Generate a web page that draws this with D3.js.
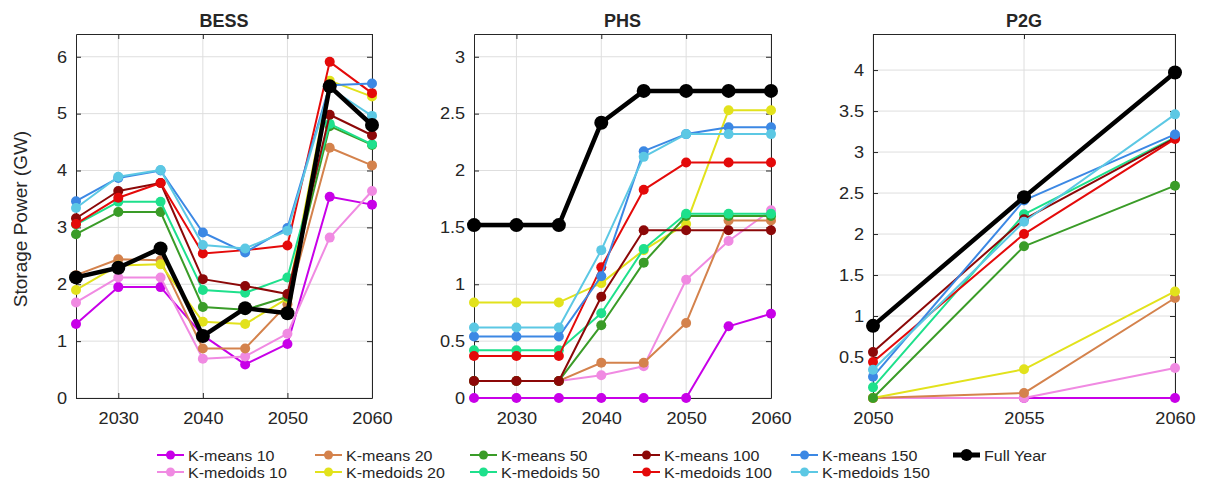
<!DOCTYPE html>
<html>
<head>
<meta charset="utf-8">
<script src="https://cdn.jsdelivr.net/npm/d3@7"></script>
<style>
  body { margin: 0; background: #fff; }
  svg text { font-family: "Liberation Sans", Arial, Helvetica, sans-serif; fill: #262626; }
</style>
</head>
<body>
<svg id="chart" width="1210" height="486"></svg>
<script>
// Series, in drawing order (Full Year last so it sits on top)
const seriesNames = [
  "K-means 10", "K-medoids 10", "K-means 20", "K-medoids 20",
  "K-means 50", "K-medoids 50", "K-means 100", "K-medoids 100",
  "K-means 150", "K-medoids 150", "Full Year"
];
const seriesColors = [
  "#c800e8", "#f08ae2", "#d4824c", "#e2e21c",
  "#3a9c28", "#1ee08c", "#8c0808", "#e40a0a",
  "#3c88e4", "#5cc8e4", "#000000"
];

const yearsBESS = [2025, 2030, 2035, 2040, 2045, 2050, 2055, 2060];
const yearsPHS  = [2025, 2030, 2035, 2040, 2045, 2050, 2055, 2060];
const yearsP2G  = [2050, 2055, 2060];

// Installed storage power (GW), one row per series in seriesNames order
const bessValues = [
  [1.30, 1.95, 1.95, 1.10, 0.59, 0.95, 3.54, 3.40],
  [1.68, 2.12, 2.12, 0.69, 0.73, 1.13, 2.82, 3.64],
  [2.16, 2.44, 2.42, 0.87, 0.87, 1.65, 4.40, 4.09],
  [1.90, 2.33, 2.35, 1.34, 1.30, 1.75, 5.58, 5.30],
  [2.88, 3.27, 3.27, 1.60, 1.55, 1.78, 4.78, 4.45],
  [3.05, 3.45, 3.45, 1.90, 1.85, 2.12, 4.82, 4.46],
  [3.16, 3.64, 3.78, 2.09, 1.97, 1.83, 4.98, 4.62],
  [3.06, 3.52, 3.78, 2.54, 2.60, 2.68, 5.91, 5.36],
  [3.46, 3.87, 4.00, 2.91, 2.56, 2.99, 5.50, 5.53],
  [3.34, 3.89, 4.01, 2.69, 2.63, 2.94, 5.45, 4.96],
  [2.12, 2.29, 2.63, 1.09, 1.58, 1.49, 5.48, 4.80]
];

const phsValues = [
  [0.00, 0.00, 0.00, 0.00, 0.00, 0.00, 0.63, 0.74],
  [0.15, 0.15, 0.15, 0.20, 0.28, 1.04, 1.38, 1.65],
  [0.15, 0.15, 0.15, 0.31, 0.31, 0.66, 1.56, 1.56],
  [0.84, 0.84, 0.84, 1.01, 1.30, 1.53, 2.53, 2.53],
  [0.15, 0.15, 0.15, 0.64, 1.19, 1.60, 1.60, 1.60],
  [0.42, 0.42, 0.42, 0.745, 1.31, 1.62, 1.62, 1.62],
  [0.15, 0.15, 0.15, 0.89, 1.475, 1.475, 1.475, 1.475],
  [0.37, 0.37, 0.37, 1.15, 1.83, 2.07, 2.07, 2.07],
  [0.54, 0.54, 0.54, 1.07, 2.17, 2.32, 2.38, 2.38],
  [0.62, 0.62, 0.62, 1.30, 2.12, 2.32, 2.32, 2.32],
  [1.52, 1.52, 1.52, 2.42, 2.70, 2.70, 2.70, 2.70]
];

const p2gValues = [
  [0.00, 0.00, 0.00],
  [0.00, 0.00, 0.365],
  [0.00, 0.06, 1.22],
  [0.00, 0.35, 1.30],
  [0.00, 1.85, 2.59],
  [0.13, 2.24, 3.18],
  [0.56, 2.18, 3.17],
  [0.44, 2.00, 3.16],
  [0.26, 2.41, 3.215],
  [0.345, 2.15, 3.46],
  [0.88, 2.45, 3.97]
];

const bessYTicks = [0, 1, 2, 3, 4, 5, 6];
const phsYTicks  = [0, 0.5, 1, 1.5, 2, 2.5, 3];
const p2gYTicks  = [0.5, 1, 1.5, 2, 2.5, 3, 3.5, 4];
const bessXTicks = [2030, 2040, 2050, 2060];
const phsXTicks  = [2030, 2040, 2050, 2060];
const p2gXTicks  = [2050, 2055, 2060];

// Layout
const plotTop = 34, plotBottom = 398;
const textStretch = "scale(1.1,1)";
const panels = [
  { title: "BESS", years: yearsBESS, values: bessValues, yMax: 6.4,  yTicks: bessYTicks, xTicks: bessXTicks, left: 76,  right: 372 },
  { title: "PHS",  years: yearsPHS,  values: phsValues,  yMax: 3.2,  yTicks: phsYTicks,  xTicks: phsXTicks,  left: 474, right: 771 },
  { title: "P2G",  years: yearsP2G,  values: p2gValues,  yMax: 4.44, yTicks: p2gYTicks,  xTicks: p2gXTicks,  left: 873, right: 1175 }
];

const svg = d3.select("#chart");
const axisColor = "#262626";
const gridColor = "#dedede";

panels.forEach(p => {
  const x = d3.scaleLinear().domain(d3.extent(p.years)).range([p.left, p.right]);
  const y = d3.scaleLinear().domain([0, p.yMax]).range([plotBottom, plotTop]);
  const g = svg.append("g");

  // grid
  g.append("g").selectAll("line").data(p.yTicks).join("line")
    .attr("x1", p.left).attr("x2", p.right)
    .attr("y1", d => y(d)).attr("y2", d => y(d))
    .attr("stroke", gridColor).attr("stroke-width", 1);
  g.append("g").selectAll("line").data(p.xTicks).join("line")
    .attr("x1", d => x(d)).attr("x2", d => x(d))
    .attr("y1", plotTop).attr("y2", plotBottom)
    .attr("stroke", gridColor).attr("stroke-width", 1);

  // box axes with inward ticks
  const fmt = d3.format("~g");
  const styleAxis = sel => {
    sel.select(".domain").attr("stroke", axisColor).attr("stroke-width", 1);
    sel.selectAll(".tick line").attr("stroke", axisColor);
  };
  g.append("g").attr("transform", `translate(${p.left},0)`)
    .call(d3.axisLeft(y).tickValues(p.yTicks).tickFormat(fmt).tickSize(-5).tickSizeOuter(0).tickPadding(8))
    .call(styleAxis)
    .call(s => s.selectAll("text").attr("font-size", 16.5).attr("fill", axisColor).attr("transform", textStretch));
  g.append("g").attr("transform", `translate(${p.right},0)`)
    .call(d3.axisRight(y).tickValues(p.yTicks).tickFormat("").tickSize(-5).tickSizeOuter(0))
    .call(styleAxis);
  g.append("g").attr("transform", `translate(0,${plotBottom})`)
    .call(d3.axisBottom(x).tickValues(p.xTicks).tickFormat(d3.format("d")).tickSize(-5).tickSizeOuter(0).tickPadding(14))
    .call(styleAxis)
    .call(s => s.selectAll("text").attr("font-size", 16.5).attr("fill", axisColor).attr("transform", textStretch));
  g.append("g").attr("transform", `translate(0,${plotTop})`)
    .call(d3.axisTop(x).tickValues(p.xTicks).tickFormat("").tickSize(-5).tickSizeOuter(0))
    .call(styleAxis);

  // title
  g.append("text")
    .attr("x", (p.left + p.right) / 2).attr("y", 27)
    .attr("text-anchor", "middle").attr("font-size", 18).attr("font-weight", "bold")
    .attr("fill", "#000").text(p.title);

  // series
  const line = d3.line().x(d => x(d[0])).y(d => y(d[1]));
  p.values.forEach((vals, i) => {
    const pts = p.years.map((yr, k) => [yr, vals[k]]);
    const full = seriesNames[i] === "Full Year";
    const s = g.append("g");
    s.append("path").datum(pts).attr("d", line)
      .attr("fill", "none").attr("stroke", seriesColors[i])
      .attr("stroke-width", full ? 4.5 : 2).attr("stroke-linejoin", "round");
    s.selectAll("circle").data(pts).join("circle")
      .attr("cx", d => x(d[0])).attr("cy", d => y(d[1]))
      .attr("r", full ? 7 : 5).attr("fill", seriesColors[i]);
  });
});

// y-axis label
svg.append("text")
  .attr("transform", "translate(27,219) rotate(-90)")
  .attr("text-anchor", "middle").attr("font-size", 19)
  .attr("fill", axisColor).text("Storage Power (GW)");

// legend: K-means on the first row, K-medoids on the second
const legendCols = [157, 315, 470, 633, 791, 953];
const legendRows = [455, 472];
const legendItems = seriesNames.map((name, i) => {
  const full = name === "Full Year";
  const col = full ? 5 : Math.floor(i / 2);
  const row = full ? 0 : i % 2;
  return { name, color: seriesColors[i], full, x: legendCols[col], y: legendRows[row] };
});
const lg = svg.append("g").selectAll("g").data(legendItems).join("g")
  .attr("transform", d => `translate(${d.x},${d.y})`);
lg.append("line").attr("x1", 0).attr("x2", 27).attr("y1", 0).attr("y2", 0)
  .attr("stroke", d => d.color).attr("stroke-width", d => d.full ? 5 : 2);
lg.append("circle").attr("cx", 13.5).attr("cy", 0).attr("r", d => d.full ? 6 : 4.5)
  .attr("fill", d => d.color);
lg.append("text").attr("x", 29).attr("y", 5.5)
  .attr("font-size", 15).attr("fill", axisColor)
  .attr("transform", "scale(1.07,1)")
  .text(d => d.name);
</script>
</body>
</html>
